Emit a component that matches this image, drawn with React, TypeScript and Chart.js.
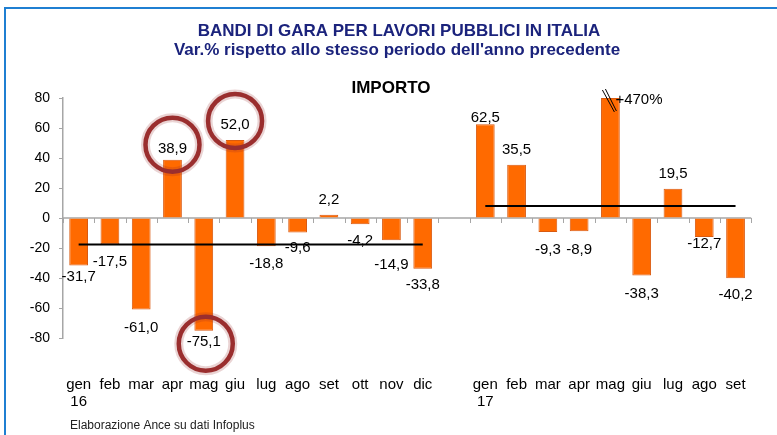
import React, { useEffect, useRef } from "react";
import { Chart, registerables } from "chart.js";

Chart.register(...registerables);

// ---- data ----
const MONTHS_2016 = ["gen", "feb", "mar", "apr", "mag", "giu", "lug", "ago", "set", "ott", "nov", "dic"];
const MONTHS_2017 = ["gen", "feb", "mar", "apr", "mag", "giu", "lug", "ago", "set"];
const YEAR_2016 = "16";
const YEAR_2017 = "17";
const VALUES_2016 = [-31.7, -17.5, -61.0, 38.9, -75.1, 52.0, -18.8, -9.6, 2.2, -4.2, -14.9, -33.8];
const VALUES_2017 = [62.5, 35.5, -9.3, -8.9, 470, -38.3, 19.5, -12.7, -40.2];
const AVG_2016 = -17.6;
const AVG_2017 = 8.0;
const Y_MIN = -80;
const Y_MAX = 80;
const Y_STEP = 20;
const HIGHLIGHT_2016 = ["apr", "mag", "giu"];

const TITLE_1 = "BANDI DI GARA PER LAVORI PUBBLICI IN ITALIA";
const TITLE_2 = "Var.% rispetto allo stesso periodo dell'anno precedente";
const SUBTITLE = "IMPORTO";
const FOOTER = "Elaborazione Ance su dati Infoplus";

// label distance from bar end (px), styling only
const LABEL_GAP = [11, 18, 18, 11, 11, 15, 18, 15, 15, 17, 25, 16, 0, 6, 15, 18, 19, 0, 18, 15, 7, 17];

const xLabels: (string | string[])[] = [
  ...MONTHS_2016.map((m, i) => (i === 0 ? [m, YEAR_2016] : m)),
  "",
  ...MONTHS_2017.map((m, i) => (i === 0 ? [m, YEAR_2017] : m)),
];
const values: (number | null)[] = [...VALUES_2016, null, ...VALUES_2017];
const plotted = values.map((v) => (v == null ? null : Math.max(Y_MIN, Math.min(Y_MAX, v))));
const avg16 = values.map((_, i) => (i < VALUES_2016.length ? AVG_2016 : null));
const avg17 = values.map((_, i) => (i > VALUES_2016.length ? AVG_2017 : null));
const highlightIdx = HIGHLIGHT_2016.map((m) => MONTHS_2016.indexOf(m));

const fmt = (v: number) => (v > Y_MAX ? "+" + Math.round(v) + "%" : v.toFixed(1).replace(".", ","));

const FONT = '"Liberation Sans", Arial, sans-serif';
const NARROW = '"Liberation Sans Narrow", "Liberation Sans", Arial, sans-serif';

const decorPlugin = {
  id: "decor",
  beforeDraw(chart: any) {
    const ctx = chart.ctx;
    ctx.save();
    ctx.fillStyle = "#ffffff";
    ctx.fillRect(0, 0, chart.width, chart.height);
    // frame
    ctx.strokeStyle = "#1f7fd2";
    ctx.lineWidth = 2;
    ctx.beginPath();
    ctx.moveTo(5, chart.height);
    ctx.lineTo(5, 8);
    ctx.lineTo(chart.width, 8);
    ctx.stroke();
    // titles
    ctx.fillStyle = "#1b237c";
    ctx.textAlign = "center";
    ctx.textBaseline = "alphabetic";
    ctx.font = "bold 17px " + NARROW;
    ctx.fillText(TITLE_1, 399, 36);
    ctx.fillText(TITLE_2, 397, 55);
    ctx.fillStyle = "#000";
    ctx.font = "bold 17px " + FONT;
    ctx.fillText(SUBTITLE, 391, 93);
    ctx.fillStyle = "#222";
    ctx.textAlign = "left";
    ctx.font = "12px " + FONT;
    ctx.fillText(FOOTER, 70, 429);
    ctx.restore();
  },
  beforeDatasetsDraw(chart: any) {
    const ctx = chart.ctx;
    const y = chart.scales.y;
    const y0 = y.getPixelForValue(0);
    const area = chart.chartArea;
    ctx.save();
    ctx.strokeStyle = "#a6a6a6";
    ctx.lineWidth = 1.5;
    ctx.beginPath();
    ctx.moveTo(area.left, y0);
    ctx.lineTo(area.right, y0);
    ctx.stroke();
    const n = xLabels.length;
    const w = (area.right - area.left) / n;
    ctx.lineWidth = 1;
    for (let i = 0; i <= n; i++) {
      const px = Math.round(area.left + i * w) + 0.5;
      ctx.beginPath();
      ctx.moveTo(px, y0);
      ctx.lineTo(px, y0 + 5);
      ctx.stroke();
    }
    ctx.restore();
  },
  afterDatasetsDraw(chart: any) {
    const ctx = chart.ctx;
    const meta = chart.getDatasetMeta(2);
    const area = chart.chartArea;
    ctx.save();
    // highlight rings
    highlightIdx.forEach((i) => {
      const el = meta.data[i];
      const v = values[i] as number;
      const cy = v < 0 ? el.y + LABEL_GAP[i] + 2 : el.y - LABEL_GAP[i] - 4;
      const cx = el.x + (v < 0 ? 2 : 0);
      ctx.strokeStyle = "rgba(150,40,40,0.2)";
      ctx.lineWidth = 9;
      ctx.beginPath();
      ctx.arc(cx, cy, 27, 0, Math.PI * 2);
      ctx.stroke();
      ctx.strokeStyle = "#9a2e2e";
      ctx.lineWidth = 4.5;
      ctx.beginPath();
      ctx.arc(cx, cy, 27, 0, Math.PI * 2);
      ctx.stroke();
    });
    ctx.fillStyle = "#000";
    ctx.font = "15px " + FONT;
    ctx.textBaseline = "middle";
    values.forEach((v, i) => {
      if (v == null) return;
      const el = meta.data[i];
      if (v > Y_MAX) {
        ctx.textAlign = "left";
        ctx.fillText(fmt(v), el.x + 5, area.top + 2);
        ctx.strokeStyle = "#000";
        ctx.lineWidth = 1;
        ctx.beginPath();
        ctx.moveTo(el.x - 8, area.top - 8);
        ctx.lineTo(el.x + 4, area.top + 14);
        ctx.moveTo(el.x - 5, area.top - 9);
        ctx.lineTo(el.x + 6, area.top + 13);
        ctx.stroke();
        return;
      }
      ctx.textAlign = "center";
      const ly = v < 0 ? el.y + LABEL_GAP[i] : el.y - LABEL_GAP[i];
      ctx.fillText(fmt(v), el.x, ly);
    });
    ctx.restore();
  },
};

export default function App() {
  const ref = useRef<HTMLCanvasElement>(null);
  useEffect(() => {
    document.body.style.margin = "0";
    const chart = new Chart(ref.current as HTMLCanvasElement, {
      type: "bar",
      data: {
        labels: xLabels,
        datasets: [
          {
            type: "line",
            data: avg16,
            borderColor: "#000",
            borderWidth: 2,
            pointRadius: 0,
            order: 0,
          } as any,
          {
            type: "line",
            data: avg17,
            borderColor: "#000",
            borderWidth: 2,
            pointRadius: 0,
            order: 0,
          } as any,
          {
            type: "bar",
            data: plotted,
            backgroundColor: "#ff6a00",
            borderColor: "#d95a10",
            borderWidth: 1,
            barPercentage: 0.6,
            categoryPercentage: 1,
            order: 1,
          },
        ],
      },
      options: {
        responsive: false,
        animation: false,
        devicePixelRatio: 1,
        layout: { padding: { left: 0, right: 20, top: 98, bottom: 0 } },
        plugins: { legend: { display: false }, tooltip: { enabled: false }, title: { display: false } },
        scales: {
          x: {
            grid: { display: false },
            border: { display: false },
            ticks: {
              autoSkip: false,
              maxRotation: 0,
              padding: 31,
              color: "#000",
              font: { family: FONT, size: 15, lineHeight: 1.1 },
            },
            afterFit: (s: any) => {
              s.height = 97;
            },
          },
          y: {
            min: Y_MIN,
            max: Y_MAX,
            grid: { display: true, drawOnChartArea: false, drawTicks: true, tickLength: 4, color: "#a6a6a6" },
            border: { display: true, color: "#a6a6a6", width: 1.5 },
            ticks: {
              stepSize: Y_STEP,
              padding: 9,
              color: "#000",
              font: { family: FONT, size: 14 },
            },
            afterFit: (s: any) => {
              s.width = 63;
            },
          },
        },
      },
      plugins: [decorPlugin],
    });
    return () => chart.destroy();
  }, []);
  return (
    <div style={{ position: "absolute", left: 0, top: 0, width: 777, height: 435 }}>
      <canvas ref={ref} width={777} height={435} />
    </div>
  );
}
